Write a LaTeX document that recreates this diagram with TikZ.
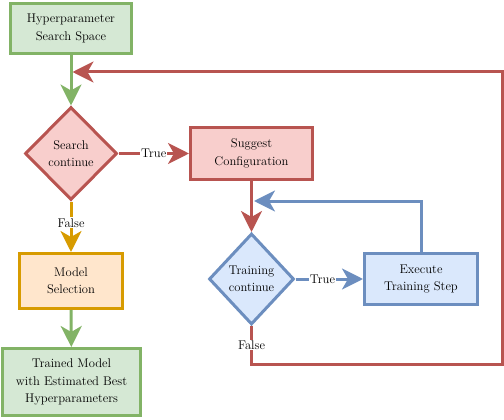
\documentclass[tikz,border=0pt]{standalone}
\usepackage{fontspec}
\usetikzlibrary{arrows.meta,shapes.geometric}
\definecolor{grnline}{HTML}{82B366}
\definecolor{grnfill}{HTML}{D5E8D4}
\definecolor{redline}{HTML}{B85450}
\definecolor{redfill}{HTML}{F8CECC}
\definecolor{bluline}{HTML}{6C8EBF}
\definecolor{blufill}{HTML}{DAE8FC}
\definecolor{orgline}{HTML}{D79B00}
\definecolor{orgfill}{HTML}{FFE6CC}

\begin{document}
\begin{tikzpicture}[x=1pt,y=-1pt,>={Stealth[length=21pt,width=21pt,inset=6pt]},
  font=\fontsize{12.6}{17.5}\selectfont,
  box/.style={rectangle,draw,line width=3pt,align=center,inner sep=1pt,text=black},
  cond/.style={diamond,draw,line width=3pt,align=center,aspect=1,inner sep=0pt,text=black},
  link/.style={->,line width=3pt},
  tag/.style={fill=white,inner sep=1pt,text=black}]
\useasboundingbox (0,0) rectangle (504,420);
\node[box,draw=grnline,fill=grnfill,minimum width=120.7pt,minimum height=50.3pt] (space) at (71,28.4) {Hyperparameter\\Search Space};
\node[cond,draw=redline,fill=redfill,minimum width=92pt,minimum height=93pt] (search) at (71,153.5) {Search\\continue};
\node[box,draw=redline,fill=redfill,minimum width=122pt,minimum height=51pt] (suggest) at (251.5,153.5) {Suggest\\Configuration};
\node[cond,draw=bluline,fill=blufill,minimum width=85pt,minimum height=91pt] (train) at (251.5,279) {Training\\continue};
\node[box,draw=bluline,fill=blufill,minimum width=113pt,minimum height=51pt] (execute) at (421,279) {Execute\\Training Step};
\node[box,draw=orgline,fill=orgfill,minimum width=103pt,minimum height=55pt] (select) at (71,281) {Model\\Selection};
\node[box,draw=grnline,fill=grnfill,minimum width=138pt,minimum height=67pt] (result) at (71.5,382) {Trained Model\\with Estimated Best\\Hyperparameters};
\coordinate (stepin) at (254,201);
\coordinate (rb) at (502,364);
\coordinate (rt) at (502,72);
\coordinate (back) at (72.5,72);
\draw[link,grnline] (space) -- (search);
\draw[link,redline] (search) -- node[tag]{True} (suggest);
\draw[link,orgline] (search) -- node[tag,pos=0.42]{False} (select);
\draw[link,grnline] (select) -- (result);
\draw[link,redline] (suggest) -- (train);
\draw[link,bluline] (train) -- node[tag,pos=0.4]{True} (execute);
\draw[link,bluline] (execute) |- (stepin);
\draw[link,redline] (train) |- node[tag,pos=0.25]{False} (rb) -- (rt) -- (back);
\end{tikzpicture}
\end{document}
